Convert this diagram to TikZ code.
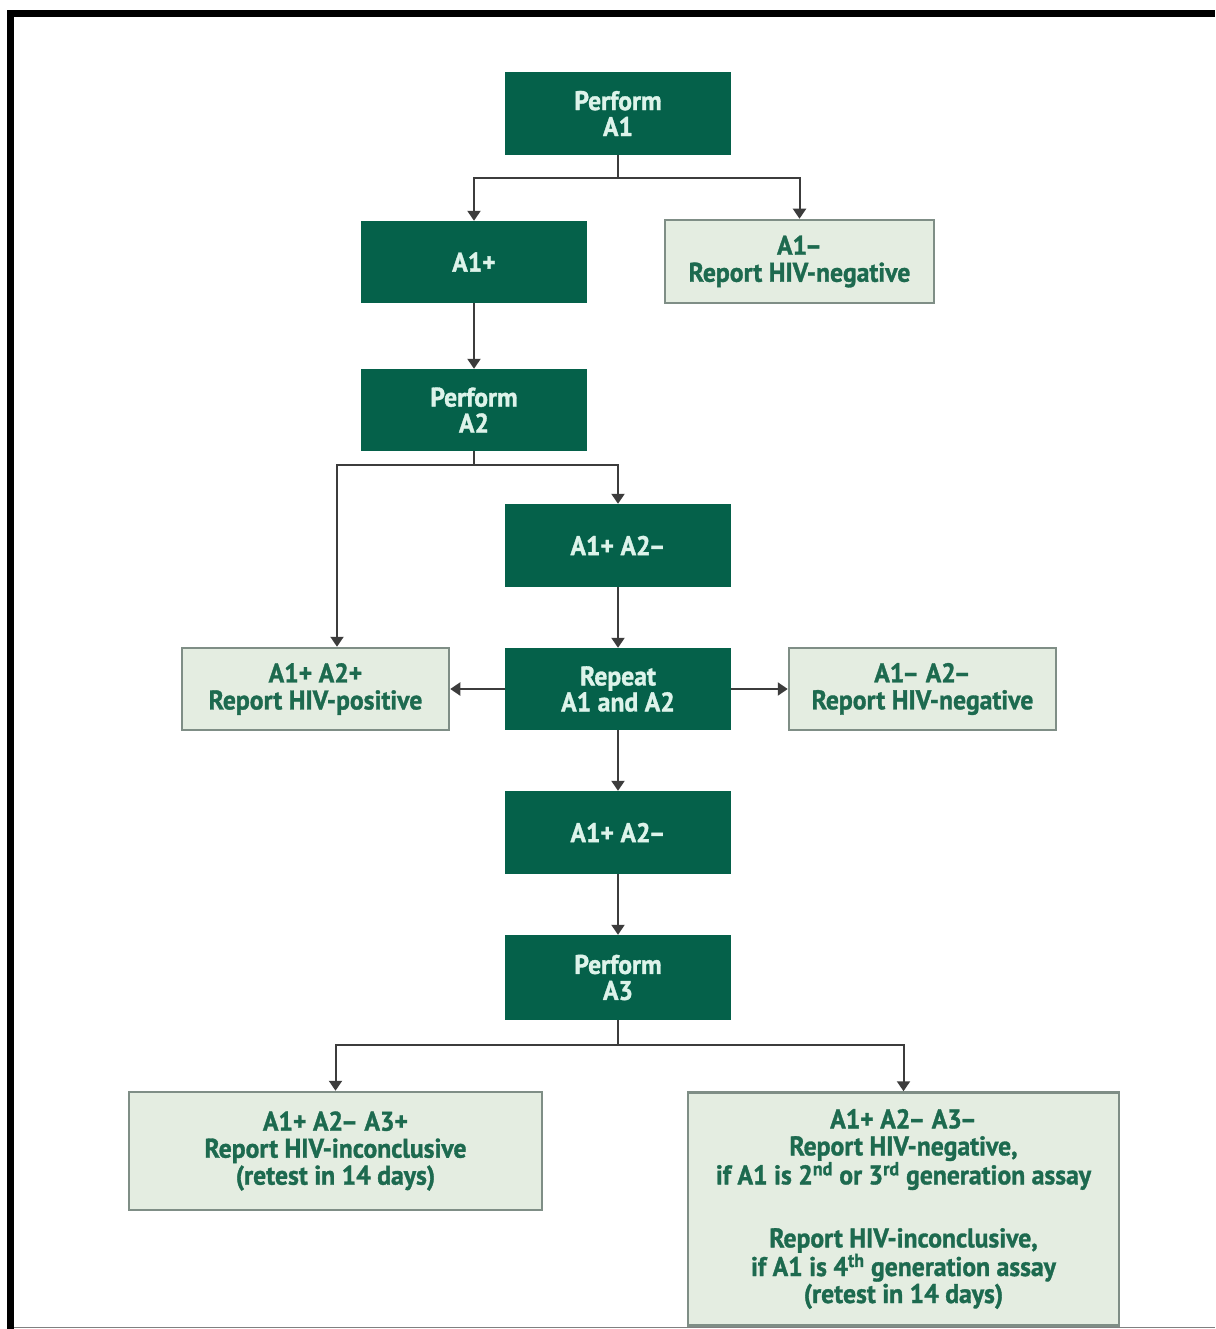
\documentclass[tikz,border=0pt]{standalone}
\usepackage{fontspec}
\setmainfont{PT Sans}[FakeStretch=0.95, FakeBold=1.2, UprightFont={* Bold}, BoldFont={* Bold}]
\usetikzlibrary{arrows.meta}

\definecolor{boxgreen}{HTML}{05614A}
\definecolor{mint}{HTML}{DDF3EA}
\definecolor{palefill}{HTML}{E4EDE1}
\definecolor{paleedge}{HTML}{7F8E86}
\definecolor{reporttext}{HTML}{1D6A4F}
\definecolor{wire}{HTML}{3C3C3C}

% tight minus sign after an assay name
\newcommand{\dashsign}{\kern-2pt–}

\tikzset{
  stepbox/.style={rectangle, fill=boxgreen, draw=none, inner sep=0pt, align=center,
    text=mint, font=\fontsize{27}{26}\selectfont},
  resultbox/.style={rectangle, fill=palefill, draw=paleedge, line width=2.5pt, inner sep=0pt,
    align=center, text=reporttext, font=\fontsize{27}{27}\selectfont},
  flow/.style={draw=wire, line width=2pt},
  arrow/.style={flow, -{Triangle[width=13pt,length=10pt]}},
}

\begin{document}
\begin{tikzpicture}[x=1pt,y=-1pt]
  \useasboundingbox (0,0) rectangle (1215,1329);
  \fill[white] (0,0) rectangle (1215,1329);

  % outer frame
  \fill[black] (7,10) rectangle (1215,17);
  \fill[black] (7,10) rectangle (14,1329);
  \draw[gray, line width=1.5pt] (14,1327.5) -- (1215,1327.5);

  % steps
  \node[stepbox, minimum width=226, minimum height=83] (pa1) at (618,113.5) {Perform\\A1};
  \node[stepbox, minimum width=226, minimum height=82] (a1p) at (474,262) {A1+};
  \node[resultbox, minimum width=269, minimum height=83] (a1n) at (799.5,261.5) {A1\dashsign\\Report HIV-negative};
  \node[stepbox, minimum width=226, minimum height=82] (pa2) at (474,410) {Perform\\A2};
  \node[stepbox, minimum width=226, minimum height=83] (mix1) at (618,545.5) {A1+ A2\dashsign};
  \node[stepbox, minimum width=226, minimum height=82] (rep) at (618,689) {Repeat\\A1 and A2};
  \node[resultbox, minimum width=267, minimum height=82] (pos) at (315.5,689) {A1+ A2+\\Report HIV-positive};
  \node[resultbox, minimum width=267, minimum height=82] (neg) at (922.5,689) {A1\dashsign{} A2\dashsign\\Report HIV-negative};
  \node[stepbox, minimum width=226, minimum height=83] (mix2) at (618,832.5) {A1+ A2\dashsign};
  \node[stepbox, minimum width=226, minimum height=85] (pa3) at (618,977.5) {Perform\\A3};
  \node[resultbox, minimum width=413, minimum height=118] (inc) at (335.5,1151)
    {A1+ A2\dashsign{} A3+\\Report HIV-inconclusive\\(retest in 14 days)};
  \node[resultbox, minimum width=431, minimum height=233] (fin) at (903.5,1209)
    {A1+ A2\dashsign{} A3\dashsign\\Report HIV-negative,\\if A1 is 2\textsuperscript{nd} or 3\textsuperscript{rd} generation assay\\[36pt]
     Report HIV-inconclusive,\\if A1 is 4\textsuperscript{th} generation assay\\(retest in 14 days)};

  % branch points
  \coordinate (j1) at (618,178);
  \coordinate (j2) at (474,465);
  \coordinate (j3) at (618,1045);

  % connectors
  \draw[flow] (pa1) -- (j1);
  \draw[arrow] (j1) -| (a1p);
  \draw[arrow] (j1) -| (a1n);
  \draw[arrow] (a1p) -- (pa2);
  \draw[flow] (pa2) -- (j2);
  \draw[arrow] (j2) -| ([xshift=21.5pt]pos.north);
  \draw[arrow] (j2) -| (mix1);
  \draw[arrow] (mix1) -- (rep);
  \draw[arrow] (rep) -- (pos);
  \draw[arrow] (rep) -- (neg);
  \draw[arrow] (rep) -- (mix2);
  \draw[arrow] (mix2) -- (pa3);
  \draw[flow] (pa3) -- (j3);
  \draw[arrow] (j3) -| (inc);
  \draw[arrow] (j3) -| (fin);
\end{tikzpicture}
\end{document}
